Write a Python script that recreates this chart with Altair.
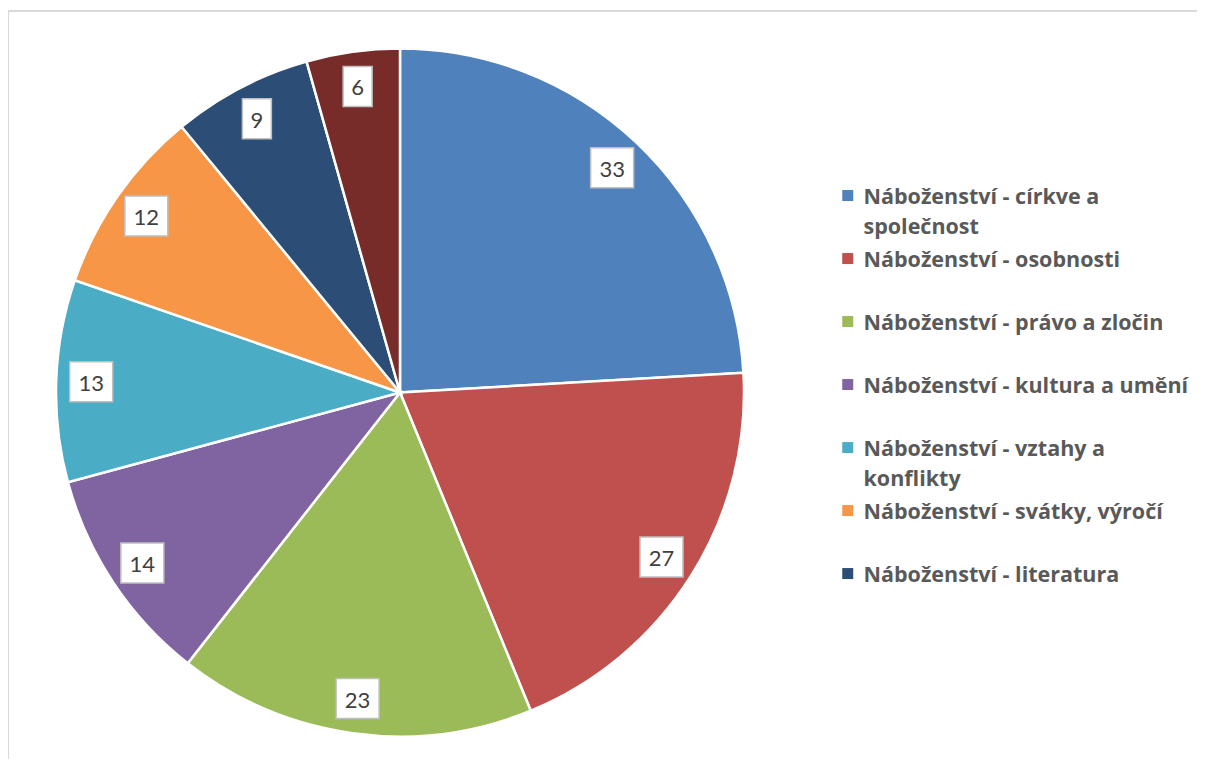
import altair as alt
import pandas as pd

categories = [
    "Náboženství - církve a společnost",
    "Náboženství - osobnosti",
    "Náboženství - právo a zločin",
    "Náboženství - kultura a umění",
    "Náboženství - vztahy a konflikty",
    "Náboženství - svátky, výročí",
    "Náboženství - literatura",
    "Náboženství - ostatní",
]
values = [33, 27, 23, 14, 13, 12, 9, 6]
colors = ["#4F81BD", "#C0504D", "#9BBB59", "#8064A2", "#4BACC6", "#F79646", "#2C4D75", "#772C2A"]
legend_items = categories[:7]
wrapped = {
    "Náboženství - církve a společnost": ["Náboženství - církve a", "společnost"],
    "Náboženství - vztahy a konflikty": ["Náboženství - vztahy a", "konflikty"],
}

W, H = 1189, 748
CX, CY, R, LR = 392, 381.5, 344, 309

df = pd.DataFrame({"idx": list(range(len(values))), "cat": categories, "val": values})

# legend label expression (multi-line labels)
expr = "[datum.label, '']"
for k, (a, b) in wrapped.items():
    expr = f"datum.label === '{k}' ? ['{a}', '{b}'] : ({expr})"

color = alt.Color(
    "cat:N",
    scale=alt.Scale(domain=categories, range=colors),
    legend=alt.Legend(
        values=legend_items,
        title=None,
        orient="none",
        legendX=829,
        legendY=165,
        symbolType="M-1,0.6H1V2.6H-1Z",
        symbolSize=121,
        symbolStrokeWidth=0,
        labelFont="Open Sans",
        labelFontSize=21.5,
        labelFontWeight="bold",
        labelColor="#595959",
        labelBaseline="top",
        labelLimit=500,
        labelOffset=5,
        rowPadding=-1.2,
        labelExpr=expr,
    ),
)

base = alt.Chart(df)

pie = base.mark_arc(outerRadius=R, stroke="white", strokeWidth=2.5).encode(
    theta=alt.Theta("val:Q", stack=True),
    color=color,
    order=alt.Order("idx:Q"),
    x=alt.value(CX),
    y=alt.value(CY),
)

lab = base.transform_window(
    cum="sum(val)", sort=[alt.SortField("idx")], frame=[None, 0]
).transform_joinaggregate(
    total="sum(val)"
).transform_calculate(
    mid="(datum.cum - datum.val / 2) / datum.total * 2 * PI",
    px=f"{CX} + {LR} * sin(datum.mid)",
    py=f"{CY} - {LR} * cos(datum.mid)",
    txt="'' + datum.val",
    bw="14 * length('' + datum.val) + 15",
    x1="datum.px - datum.bw / 2",
    x2="datum.px + datum.bw / 2",
    y1="datum.py - 20",
    y2="datum.py + 20",
)

boxes = lab.mark_rect(fill="white", stroke="#BFBFBF", strokeWidth=1.5).encode(
    x=alt.X("x1:Q", scale=None),
    x2="x2:Q",
    y=alt.Y("y1:Q", scale=None),
    y2="y2:Q",
)

texts = lab.mark_text(font="Lato", fontSize=22, color="#404040", baseline="middle", dy=2).encode(
    x=alt.X("px:Q", scale=None),
    y=alt.Y("py:Q", scale=None),
    text="txt:N",
)

frame_df = pd.DataFrame({"k": [0]})
top_line = alt.Chart(frame_df).mark_rule(color="#D9D9D9", strokeWidth=2).encode(
    x=alt.value(0), x2=alt.value(W), y=alt.value(0)
)
left_line = alt.Chart(frame_df).mark_rule(color="#D9D9D9", strokeWidth=2).encode(
    x=alt.value(0), y=alt.value(0), y2=alt.value(H)
)

chart = alt.layer(top_line, left_line, pie, boxes, texts).properties(
    width=W,
    height=H,
    autosize=alt.AutoSizeParams(type="none"),
    padding={"top": 3, "left": 0, "right": 0, "bottom": 0},
).configure(
    background="white",
    view=alt.ViewConfig(stroke="transparent"),
    style={"guide-label": {"lineHeight": 30}},
)

chart.save("out.html", embed_options={"renderer": "svg", "actions": False})
